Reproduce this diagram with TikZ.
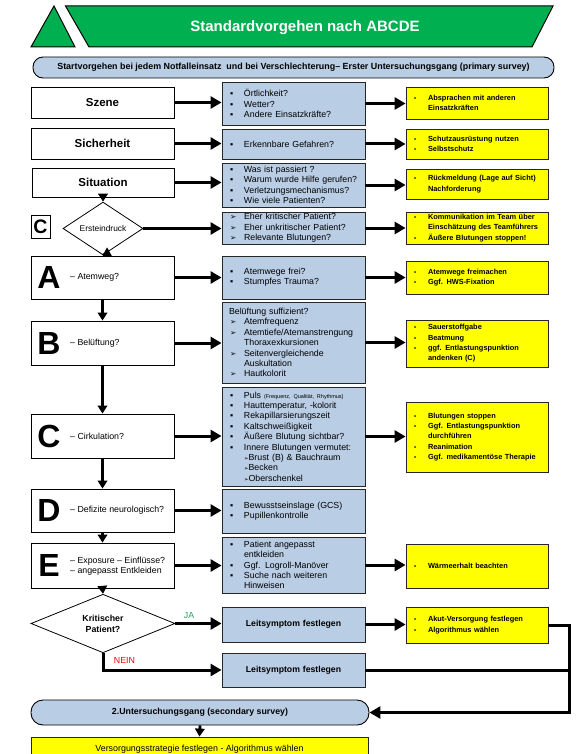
\documentclass[tikz,border=0pt]{standalone}
\usepackage{fontspec}
\setmainfont{Liberation Sans}
\newfontfamily\dvs{DejaVu Sans}
\usetikzlibrary{arrows.meta,shapes.geometric,shadows}
\definecolor{bluebox}{RGB}{185,205,229}
\definecolor{ylw}{RGB}{255,255,0}
\definecolor{grn}{RGB}{0,176,80}
\definecolor{jagreen}{RGB}{51,153,102}
\newcommand\sqb{\makebox[17pt][l]{\hspace{3pt}▪}}
\newcommand\arb{\makebox[17pt][l]{\hspace{3pt}{\dvs\fontsize{7.5}{7.5}\selectfont ➢}}}
\newcommand\sarb{{\dvs\fontsize{5.5}{5.5}\selectfont ➢}}
\newcommand\ind{\hspace*{17pt}}
\newcommand\yind{\hspace*{14pt}}
\newcommand\ybl{\makebox[14pt][l]{\fontsize{6}{6}\selectfont •}}
\tikzset{
  shad/.style={drop shadow={shadow xshift=1.3pt,shadow yshift=-1.3pt,fill=black!45,opacity=0.8}},
  lbox/.style={draw=black,line width=0.8pt,fill=white,minimum width=143pt,inner sep=0pt,shad,
    font=\fontsize{11.5}{11.5}\selectfont\bfseries},
  bbox/.style={draw=black!85,line width=0.9pt,fill=bluebox,text width=133pt,inner xsep=5pt,inner ysep=0pt,
    align=left,font=\fontsize{8.8}{10.4}\selectfont},
  ybox/.style={draw=black!85,line width=0.8pt,fill=ylw,text width=126pt,inner xsep=8pt,inner ysep=0pt,
    align=left,font=\fontsize{7.4}{10.3}\selectfont\bfseries,shad},
  bigl/.style={font=\fontsize{32}{32}\selectfont\bfseries,inner sep=0pt},
  lbl/.style={font=\fontsize{8.8}{9.6}\selectfont,anchor=west,inner sep=0pt,align=left},
  pill/.style={draw=black,line width=0.9pt,fill=bluebox,rounded corners=10pt,inner sep=0pt},
  harr/.style={line width=3pt,-{Triangle[length=11pt,width=12pt]}},
  varr/.style={line width=2.8pt,-{Triangle[length=8pt,width=9.5pt]}},
  thickline/.style={line width=3pt},
  dia/.style={diamond,draw=black,line width=0.8pt,fill=white,inner sep=0pt}
}
\begin{document}
\begin{tikzpicture}[x=1pt,y=-1pt]
\useasboundingbox (0,0) rectangle (583,754);
% header
\filldraw[fill=grn,draw=black,line width=1pt] (54,6) -- (31,47) -- (75,47) -- cycle;
\filldraw[fill=grn,draw=black,line width=1pt] (65.5,6) -- (553,6) -- (532,47) -- (89,47) -- cycle;
\node[text=white,font=\fontsize{15}{15}\selectfont\bfseries] (title) at (305,28) {Standardvorgehen nach ABCDE};
\node[pill,minimum width=521pt,minimum height=21pt,font=\fontsize{8.9}{8.9}\selectfont\bfseries] (start) at (293.5,67.5)
  {Startvorgehen bei jedem Notfalleinsatz\ \ und bei Verschlechterung– Erster Untersuchungsgang (primary survey)};

% left column
\node[lbox,minimum height=31pt] (szene) at (102.5,102.5) {Szene};
\node[lbox,minimum height=31pt] (sicher) at (102.5,143.5) {Sicherheit};
\node[lbox,minimum width=142pt,minimum height=29pt] (situ) at (103,182.5) {Situation};
\node[lbox,minimum width=19pt,minimum height=23pt,font=\fontsize{19.5}{19.5}\selectfont\bfseries] (cbox) at (40.5,226.5) {C};
\node[dia,minimum width=80pt,minimum height=33pt,font=\fontsize{8.4}{8.4}\selectfont] (d1) at (103,228.5) {Ersteindruck};
\node[lbox,minimum height=43pt] (boxA) at (102.5,277.5) {};
\node[lbox,minimum height=44pt] (boxB) at (102.5,343) {};
\node[lbox,minimum height=44pt] (boxC) at (102.5,436) {};
\node[lbox,minimum height=43pt] (boxD) at (102.5,510.5) {};
\node[lbox,minimum height=45pt] (boxE) at (102.5,565.5) {};
\node[dia,minimum width=144pt,minimum height=47pt,align=center,font=\fontsize{8.8}{11}\selectfont\bfseries] (d2) at (103,623.5) {Kritischer\\Patient?};

\node[bigl] (lA) at (49,277.5) {A};
\node[bigl] (lB) at (49,343) {B};
\node[bigl] (lC) at (49,436) {C};
\node[bigl] (lD) at (49,510.5) {D};
\node[bigl] (lE) at (49,565.5) {E};
\node[lbl] (tA) at (70,277.5) {– Atemweg?};
\node[lbl] (tB) at (70,343) {– Belüftung?};
\node[lbl] (tC) at (70,436) {– Cirkulation?};
\node[lbl] (tD) at (70,510.5) {– Defizite neurologisch?};
\node[lbl] (tE) at (70,566) {– Exposure – Einflüsse?\\– angepasst Entkleiden};

% blue column
\node[bbox,minimum height=43pt] (b1) at (293.5,103.5) {\sqb Örtlichkeit?\\ \sqb Wetter?\\ \sqb Andere Einsatzkräfte?};
\node[bbox,minimum height=30pt] (b2) at (293.5,144) {\sqb Erkennbare Gefahren?};
\node[bbox,minimum height=44pt] (b3) at (293.5,185) {\sqb Was ist passiert ?\\ \sqb Warum wurde Hilfe gerufen?\\ \sqb Verletzungsmechanismus?\\ \sqb Wie viele Patienten?};
\node[bbox,minimum height=32pt] (b4) at (293.5,228) {\arb Eher kritischer Patient?\\ \arb Eher unkritischer Patient?\\ \arb Relevante Blutungen?};
\node[bbox,minimum height=43pt] (bA) at (293.5,277.5) {\sqb Atemwege frei?\\ \sqb Stumpfes Trauma?};
\node[bbox,minimum height=81pt] (bB) at (293.5,342.5) {\hspace*{2pt}Belüftung suffizient?\\ \arb Atemfrequenz\\ \arb Atemtiefe/Atemanstrengung\\ \ind Thoraxexkursionen\\ \arb Seitenvergleichende\\ \ind Auskultation\\ \arb Hautkolorit};
\node[bbox,minimum height=99pt] (bC) at (293.5,436.5) {\sqb Puls {\fontsize{5.5}{5.5}\selectfont (Frequenz, Qualität, Rhythmus)}\\ \sqb Hauttemperatur, -kolorit\\ \sqb Rekapillarsierungszeit\\ \sqb Kaltschweißigkeit\\ \sqb Äußere Blutung sichtbar?\\ \sqb Innere Blutungen vermutet:\\ \ind\sarb Brust (B) \& Bauchraum\\ \ind\sarb Becken\\ \ind\sarb Oberschenkel};
\node[bbox,minimum height=44pt] (bD) at (293.5,511) {\sqb Bewusstseinslage (GCS)\\ \sqb Pupillenkontrolle};
\node[bbox,minimum height=56pt] (bE) at (293.5,565) {\sqb Patient angepasst\\ \ind entkleiden\\ \sqb Ggf. Logroll-Manöver\\ \sqb Suche nach weiteren\\ \ind Hinweisen};
\node[bbox,minimum height=35pt,align=center,font=\fontsize{8.7}{8.7}\selectfont\bfseries] (bJA) at (293.5,624.5) {Leitsymptom festlegen};
\node[bbox,minimum height=34pt,align=center,font=\fontsize{8.7}{8.7}\selectfont\bfseries] (bN) at (293.5,670) {Leitsymptom festlegen};

% yellow column
\node[ybox,minimum height=32pt] (y1) at (477,103) {\ybl Absprachen mit anderen\\ \yind Einsatzkräften};
\node[ybox,minimum height=30pt] (y2) at (477,144) {\ybl Schutzausrüstung nutzen\\ \ybl Selbstschutz};
\node[ybox,minimum height=30pt] (y3) at (477,184) {\ybl Rückmeldung (Lage auf Sicht)\\ \yind Nachforderung};
\node[ybox,minimum height=32pt] (y4) at (477,228) {\ybl Kommunikation im Team über\\ \yind Einschätzung des Teamführers\\ \ybl Äußere Blutungen stoppen!};
\node[ybox,minimum height=33pt] (yA) at (477,277.5) {\ybl Atemwege freimachen\\ \ybl Ggf. HWS-Fixation};
\node[ybox,minimum height=47pt] (yB) at (477,343.5) {\ybl Sauerstoffgabe\\ \ybl Beatmung\\ \ybl ggf. Entlastungspunktion\\ \yind andenken (C)};
\node[ybox,minimum height=70pt] (yC) at (477,437) {\ybl Blutungen stoppen\\ \ybl Ggf. Entlastungspunktion\\ \yind durchführen\\ \ybl Reanimation\\ \ybl Ggf. medikamentöse Therapie};
\node[ybox,minimum height=44pt] (yE) at (477,566) {\ybl Wärmeerhalt beachten};
\node[ybox,minimum height=36pt] (yJA) at (477,625) {\ybl Akut-Versorgung festlegen\\ \ybl Algorithmus wählen};

% bottom
\node[pill,minimum width=338pt,minimum height=25pt,rounded corners=12pt,font=\fontsize{8.8}{8.8}\selectfont\bfseries] (sec) at (200,712.5) {2.Untersuchungsgang (secondary survey)};
\node[draw=black!85,line width=0.8pt,fill=ylw,minimum width=337pt,minimum height=24pt,inner sep=0pt,font=\fontsize{8.9}{8.9}\selectfont] (yb) at (199.5,749) {Versorgungsstrategie festlegen - Algorithmus wählen};
\coordinate (rc) at (569,0);

% labels
\node[text=jagreen,font=\fontsize{8.8}{8.8}\selectfont] (ja) at (189,616) {JA};
\node[text=red,font=\fontsize{8.8}{8.8}\selectfont] (nein) at (124.5,660) {NEIN};

% horizontal arrows left -> blue
\foreach \l/\b in {szene/b1,sicher/b2,situ/b3,d1/b4,boxA/bA,boxB/bB,boxC/bC,boxD/bD,boxE/bE,d2/bJA}
  \draw[harr] (\l.east) -- (\l.east -| \b.west);
% blue -> yellow
\foreach \b/\y in {b1/y1,b2/y2,b3/y3,b4/y4,bA/yA,bB/yB,bC/yC,bE/yE,bJA/yJA}
  \draw[harr] (\b.east) -- (\b.east -| \y.west);
% vertical arrows
\draw[varr] (situ.south) -- (d1.north);
\draw[varr] (d1.south) -- (boxA.north);
\draw[varr] (boxA.south) -- (boxB.north);
\draw[varr] (boxB.south) -- (boxC.north);
\draw[varr] (boxC.south) -- (boxD.north);
\draw[varr] (boxD.south) -- (boxE.north);
\draw[varr] (boxE.south) -- (d2.north);
% NEIN
\draw[harr] (d2.south) |- (bN.west);
\draw[thickline] (bN.east) -- (bN.east -| rc);
\draw[harr] (yJA.east) -- (yJA.east -| rc) |- (sec.east);
\draw[varr] (sec.south) -- (yb.north);
\end{tikzpicture}
\end{document}
